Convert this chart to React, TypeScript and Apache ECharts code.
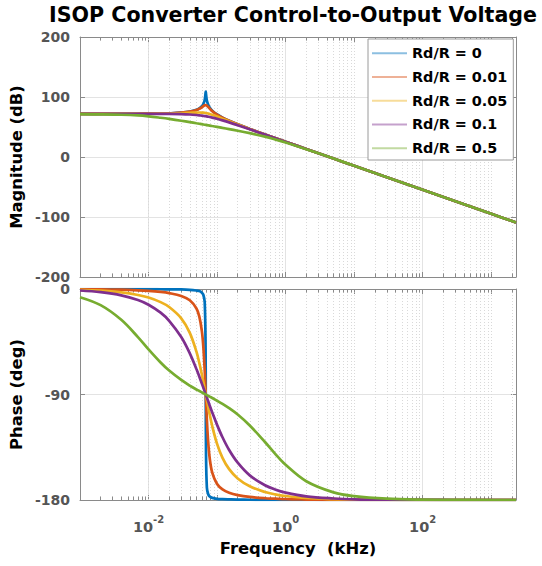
import React, { useEffect, useRef } from 'react';
import * as echarts from 'echarts';

// ---------- data ----------
const FREQ_KHZ = [
  0.001, 0.002, 0.004, 0.007, 0.01, 0.015, 0.02, 0.03, 0.04, 0.05, 0.055, 0.06, 0.063, 0.066, 0.068,
  0.0684, 0.069, 0.071, 0.074, 0.078, 0.085, 0.1, 0.12, 0.15, 0.2, 0.3, 0.5, 0.7, 1, 2, 5, 10, 30, 100,
  300, 1000, 2300,
];

const SERIES_NAMES = ['Rd/R = 0', 'Rd/R = 0.01', 'Rd/R = 0.05', 'Rd/R = 0.1', 'Rd/R = 0.5'];

const MAG_RD_0 = [72.0, 72.0, 72.0, 72.1, 72.2, 72.4, 72.8, 73.9, 75.6, 78.6, 81.0, 84.7, 88.4, 95.1, 106.8, 109.0, 104.9, 94.1, 87.4, 82.5, 77.3, 70.9, 65.7, 60.4, 54.4, 46.8, 37.6, 31.7, 25.4, 13.4, -2.6, -14.6, -33.7, -54.6, -73.7, -94.6, -109.1];
const MAG_RD_001 = [72.0, 72.0, 72.1, 72.1, 72.2, 72.4, 72.8, 73.8, 75.5, 78.3, 80.3, 82.9, 84.7, 86.2, 86.5, 86.4, 86.3, 85.5, 83.5, 80.6, 76.5, 70.6, 65.5, 60.3, 54.4, 46.8, 37.6, 31.7, 25.4, 13.4, -2.6, -14.6, -33.7, -54.6, -73.7, -94.6, -109.1];
const MAG_RD_005 = [72.0, 72.0, 72.0, 72.1, 72.1, 72.3, 72.5, 73.0, 73.6, 74.1, 74.2, 74.1, 73.9, 73.6, 73.4, 73.3, 73.2, 73.0, 72.5, 71.8, 70.4, 67.4, 63.8, 59.4, 54.0, 46.6, 37.5, 31.6, 25.3, 13.4, -2.6, -14.6, -33.7, -54.6, -73.7, -94.6, -109.1];
const MAG_RD_01 = [72.0, 72.0, 72.0, 72.0, 72.0, 71.9, 71.8, 71.4, 70.8, 70.0, 69.5, 68.9, 68.6, 68.2, 68.0, 67.9, 67.8, 67.6, 67.2, 66.7, 65.7, 63.7, 61.1, 57.7, 53.0, 46.2, 37.4, 31.6, 25.4, 13.4, -2.6, -14.6, -33.7, -54.6, -73.7, -94.6, -109.1];
const MAG_RD_05 = [71.3, 71.0, 70.4, 69.3, 67.8, 65.4, 63.5, 60.4, 58.1, 56.2, 55.4, 54.7, 54.2, 53.8, 53.6, 53.5, 53.4, 53.2, 52.8, 52.4, 51.6, 50.2, 48.5, 46.5, 43.8, 39.7, 33.9, 29.4, 24.2, 13.0, -2.6, -14.6, -33.7, -54.6, -73.7, -94.6, -109.1];

const PHASE_RD_0 = [0, 0, -0.1, -0.1, -0.1, -0.2, -0.3, -0.4, -0.7, -1.3, -1.8, -3.1, -4.9, -11.1, -50.3, -90, -141.4, -169.4, -174.9, -177.0, -178.2, -179.0, -179.3, -179.5, -179.7, -179.8, -179.9, -179.9, -180, -180, -180, -180, -180, -180, -180, -180, -180];
const PHASE_RD_001 = [-0.2, -0.3, -0.6, -1.1, -1.6, -2.5, -3.5, -5.9, -9.6, -16.6, -23.4, -35.9, -49.1, -69.4, -86.5, -90, -95.3, -111.4, -129.7, -144.2, -156.6, -166.3, -170.9, -173.8, -175.8, -177.4, -178.5, -178.9, -179.3, -179.6, -179.9, -179.9, -180, -180, -180, -180, -180];
const PHASE_RD_005 = [-0.7, -1.4, -2.9, -5.1, -7.3, -11.2, -15.4, -25.0, -37.4, -53.5, -62.9, -73.0, -79.2, -85.3, -89.2, -90, -91.2, -95.0, -100.4, -107.0, -117.0, -132.1, -144.0, -153.7, -161.6, -168.3, -173.2, -175.2, -176.6, -178.3, -179.3, -179.7, -179.9, -180, -180, -180, -180];
const PHASE_RD_01 = [-1.3, -2.7, -5.4, -9.4, -13.4, -20.2, -27.1, -41.0, -54.9, -68.3, -74.6, -80.7, -84.1, -87.4, -89.6, -90, -90.6, -92.7, -95.6, -99.4, -105.3, -115.9, -126.5, -137.4, -148.2, -159.0, -167.4, -171.0, -173.7, -176.9, -178.7, -179.4, -179.8, -179.9, -180, -180, -180];
const PHASE_RD_05 = [-7.0, -13.8, -26.3, -41.0, -51.5, -62.7, -69.6, -77.6, -82.4, -85.7, -87.0, -88.2, -88.9, -89.5, -89.9, -90.0, -90.1, -90.5, -91.1, -91.8, -93.0, -95.3, -98.0, -101.7, -107.1, -116.4, -130.5, -140.4, -150.0, -164.0, -173.5, -176.7, -178.9, -179.7, -179.9, -180.0, -180.0];

const MAG_SERIES = [MAG_RD_0, MAG_RD_001, MAG_RD_005, MAG_RD_01, MAG_RD_05];
const PHASE_SERIES = [PHASE_RD_0, PHASE_RD_001, PHASE_RD_005, PHASE_RD_01, PHASE_RD_05];

const FREQ_RANGE = [0.001, 2300];
const MAG_RANGE = [-200, 200];
const MAG_STEP = 100;
const PHASE_RANGE = [-180, 0];
const PHASE_STEP = 90;

const TITLE = 'ISOP Converter Control-to-Output Voltage';
const X_NAME = 'Frequency  (kHz)';
const MAG_NAME = 'Magnitude (dB)';
const PHASE_NAME = 'Phase (deg)';

// ---------- styles ----------
const COLORS = ['#0072BD', '#D95319', '#EDB120', '#7E2F8E', '#77AC30'];
const FONT = "'DejaVu Sans', sans-serif";
const AXIS_COLOR = '#8a8a8a';
const LABEL_COLOR = '#555555';
const MAJOR_GRID = '#e3e3e3';
const MINOR_GRID = '#d9d9d9';

function minorPositions(): number[] {
  const out: number[] = [];
  for (let n = -3; n <= 3; n++) {
    for (let k = 1; k <= 9; k++) {
      const f = k * Math.pow(10, n);
      if (f <= FREQ_RANGE[0] * 1.0001 || f >= FREQ_RANGE[1]) continue;
      if (k === 1 && n % 2 === 0) continue; // major (labelled) decades
      out.push(f);
    }
  }
  return out;
}

function xLabel(v: number): string {
  const l = Math.log10(v);
  const e = Math.round(l);
  if (Math.abs(l - e) > 0.01 || e % 2 !== 0) return '';
  return `{a|10}{b|${e}}`;
}

export default function App() {
  const ref = useRef<HTMLDivElement>(null);
  useEffect(() => {
    if (!ref.current) return;
    const chart = echarts.init(ref.current, undefined, { renderer: 'svg' });
    const minors = minorPositions();

    const xBase = (gridIndex: number, position: 'top' | 'bottom') => ({
      type: 'log',
      logBase: 10,
      gridIndex,
      position,
      min: FREQ_RANGE[0],
      max: FREQ_RANGE[1],
      axisLine: { show: true, onZero: false, lineStyle: { color: AXIS_COLOR, width: 1 } },
      axisTick: { show: true, inside: true, length: 5, lineStyle: { color: AXIS_COLOR } },
      axisLabel: { show: false },
      splitLine: { show: false },
    });

    const yLabelStyle = {
      fontFamily: FONT,
      fontWeight: 'bold',
      fontSize: 14,
      color: LABEL_COLOR,
      margin: 10,
    };
    const nameStyle = { fontFamily: FONT, fontWeight: 'bold', fontSize: 16.4, color: '#000' };

    const yBase = (gridIndex: number, position: 'left' | 'right', range: number[], step: number) => ({
      type: 'value',
      gridIndex,
      position,
      min: range[0],
      max: range[1],
      interval: step,
      axisLine: { show: true, onZero: false, lineStyle: { color: AXIS_COLOR, width: 1 } },
      axisTick: { show: true, inside: true, length: 5, lineStyle: { color: AXIS_COLOR } },
      axisLabel: { show: false },
      splitLine: { show: false },
    });

    const tickMarks = (yr: number[], len: number) => {
      const d: any[] = [];
      for (const f of minors) {
        d.push([
          { coord: [f, yr[0]], lineStyle: { type: 'solid', color: AXIS_COLOR, width: 1 } },
          { coord: [f, yr[0] + len] },
        ]);
        d.push([
          { coord: [f, yr[1]], lineStyle: { type: 'solid', color: AXIS_COLOR, width: 1 } },
          { coord: [f, yr[1] - len] },
        ]);
      }
      return d;
    };

    const decoSeries = (xi: number, yi: number, yr: number[], len: number) => ({
      type: 'line',
      xAxisIndex: xi,
      yAxisIndex: yi,
      data: [],
      z: 1,
      silent: true,
      markLine: {
        z: 1,
        silent: true,
        symbol: ['none', 'none'],
        label: { show: false },
        emphasis: { disabled: true },
        lineStyle: { type: [1, 2], color: MINOR_GRID, width: 1 },
        data: [...minors.map((f) => ({ xAxis: f })), ...tickMarks(yr, len)],
      },
    });

    const lineSeries = (i: number, xi: number, yi: number, vals: number[]) => ({
      type: 'line',
      name: SERIES_NAMES[i],
      xAxisIndex: xi,
      yAxisIndex: yi,
      data: FREQ_KHZ.map((f, k) => [f, vals[k]]),
      symbol: 'none',
      showSymbol: false,
      smooth: 0.35,
      color: COLORS[i],
      lineStyle: { width: 2.7, color: COLORS[i] },
      z: 3,
      emphasis: { disabled: true },
    });

    const option: any = {
      animation: false,
      backgroundColor: '#fff',
      title: {
        text: TITLE,
        left: 49,
        top: 4,
        padding: 0,
        textStyle: { fontFamily: FONT, fontWeight: 'bold', fontSize: 20.6, color: '#000' },
      },
      legend: {
        data: SERIES_NAMES,
        orient: 'vertical',
        left: 368,
        top: 39,
        padding: [2.5, 6, 0, 3],
        itemGap: 0,
        itemWidth: 35,
        itemHeight: 4,
        backgroundColor: '#fff',
        borderColor: '#9a9a9a',
        borderWidth: 1,
        textStyle: { fontFamily: FONT, fontWeight: 'bold', fontSize: 14.4, color: '#000', lineHeight: 23.7 },
        lineStyle: { width: 2, opacity: 0.45 },
        itemStyle: { opacity: 0 },
        selectedMode: false,
      },
      grid: [
        { left: 80, top: 37, width: 436, height: 240, containLabel: false },
        { left: 80, top: 289, width: 436, height: 211, containLabel: false },
      ],
      xAxis: [
        { ...xBase(0, 'bottom'), splitLine: { show: true, lineStyle: { color: ['rgba(0,0,0,0)', MAJOR_GRID], width: 1 } } },
        xBase(0, 'top'),
        {
          ...xBase(1, 'bottom'),
          splitLine: { show: true, lineStyle: { color: ['rgba(0,0,0,0)', MAJOR_GRID], width: 1 } },
          axisLabel: {
            show: true,
            margin: 14,
            formatter: xLabel,
            rich: {
              a: { fontFamily: FONT, fontWeight: 'bold', fontSize: 14.5, color: LABEL_COLOR, lineHeight: 20, verticalAlign: 'bottom' },
              b: { fontFamily: FONT, fontWeight: 'bold', fontSize: 10, color: LABEL_COLOR, lineHeight: 10, verticalAlign: 'top' },
            },
          },
          name: X_NAME,
          nameLocation: 'middle',
          nameGap: 40,
          nameTextStyle: nameStyle,
        },
        xBase(1, 'top'),
      ],
      yAxis: [
        {
          ...yBase(0, 'left', MAG_RANGE, MAG_STEP),
          axisLabel: { show: true, ...yLabelStyle },
          splitLine: { show: true, lineStyle: { color: MAJOR_GRID, width: 1 } },
          name: MAG_NAME,
          nameLocation: 'middle',
          nameGap: 43,
          nameTextStyle: nameStyle,
        },
        yBase(0, 'right', MAG_RANGE, MAG_STEP),
        {
          ...yBase(1, 'left', PHASE_RANGE, PHASE_STEP),
          axisLabel: { show: true, ...yLabelStyle },
          splitLine: { show: true, lineStyle: { color: MAJOR_GRID, width: 1 } },
          name: PHASE_NAME,
          nameLocation: 'middle',
          nameGap: 43,
          nameTextStyle: nameStyle,
        },
        yBase(1, 'right', PHASE_RANGE, PHASE_STEP),
      ],
      series: [
        decoSeries(0, 0, MAG_RANGE, 6),
        decoSeries(2, 2, PHASE_RANGE, 3),
        ...MAG_SERIES.map((v, i) => lineSeries(i, 0, 0, v)),
        ...PHASE_SERIES.map((v, i) => lineSeries(i, 2, 2, v)),
      ],
    };
    chart.setOption(option);
    return () => chart.dispose();
  }, []);
  return (
    <div
      ref={ref}
      style={{ position: 'absolute', left: 0, top: 0, width: 542, height: 566 }}
    />
  );
}
